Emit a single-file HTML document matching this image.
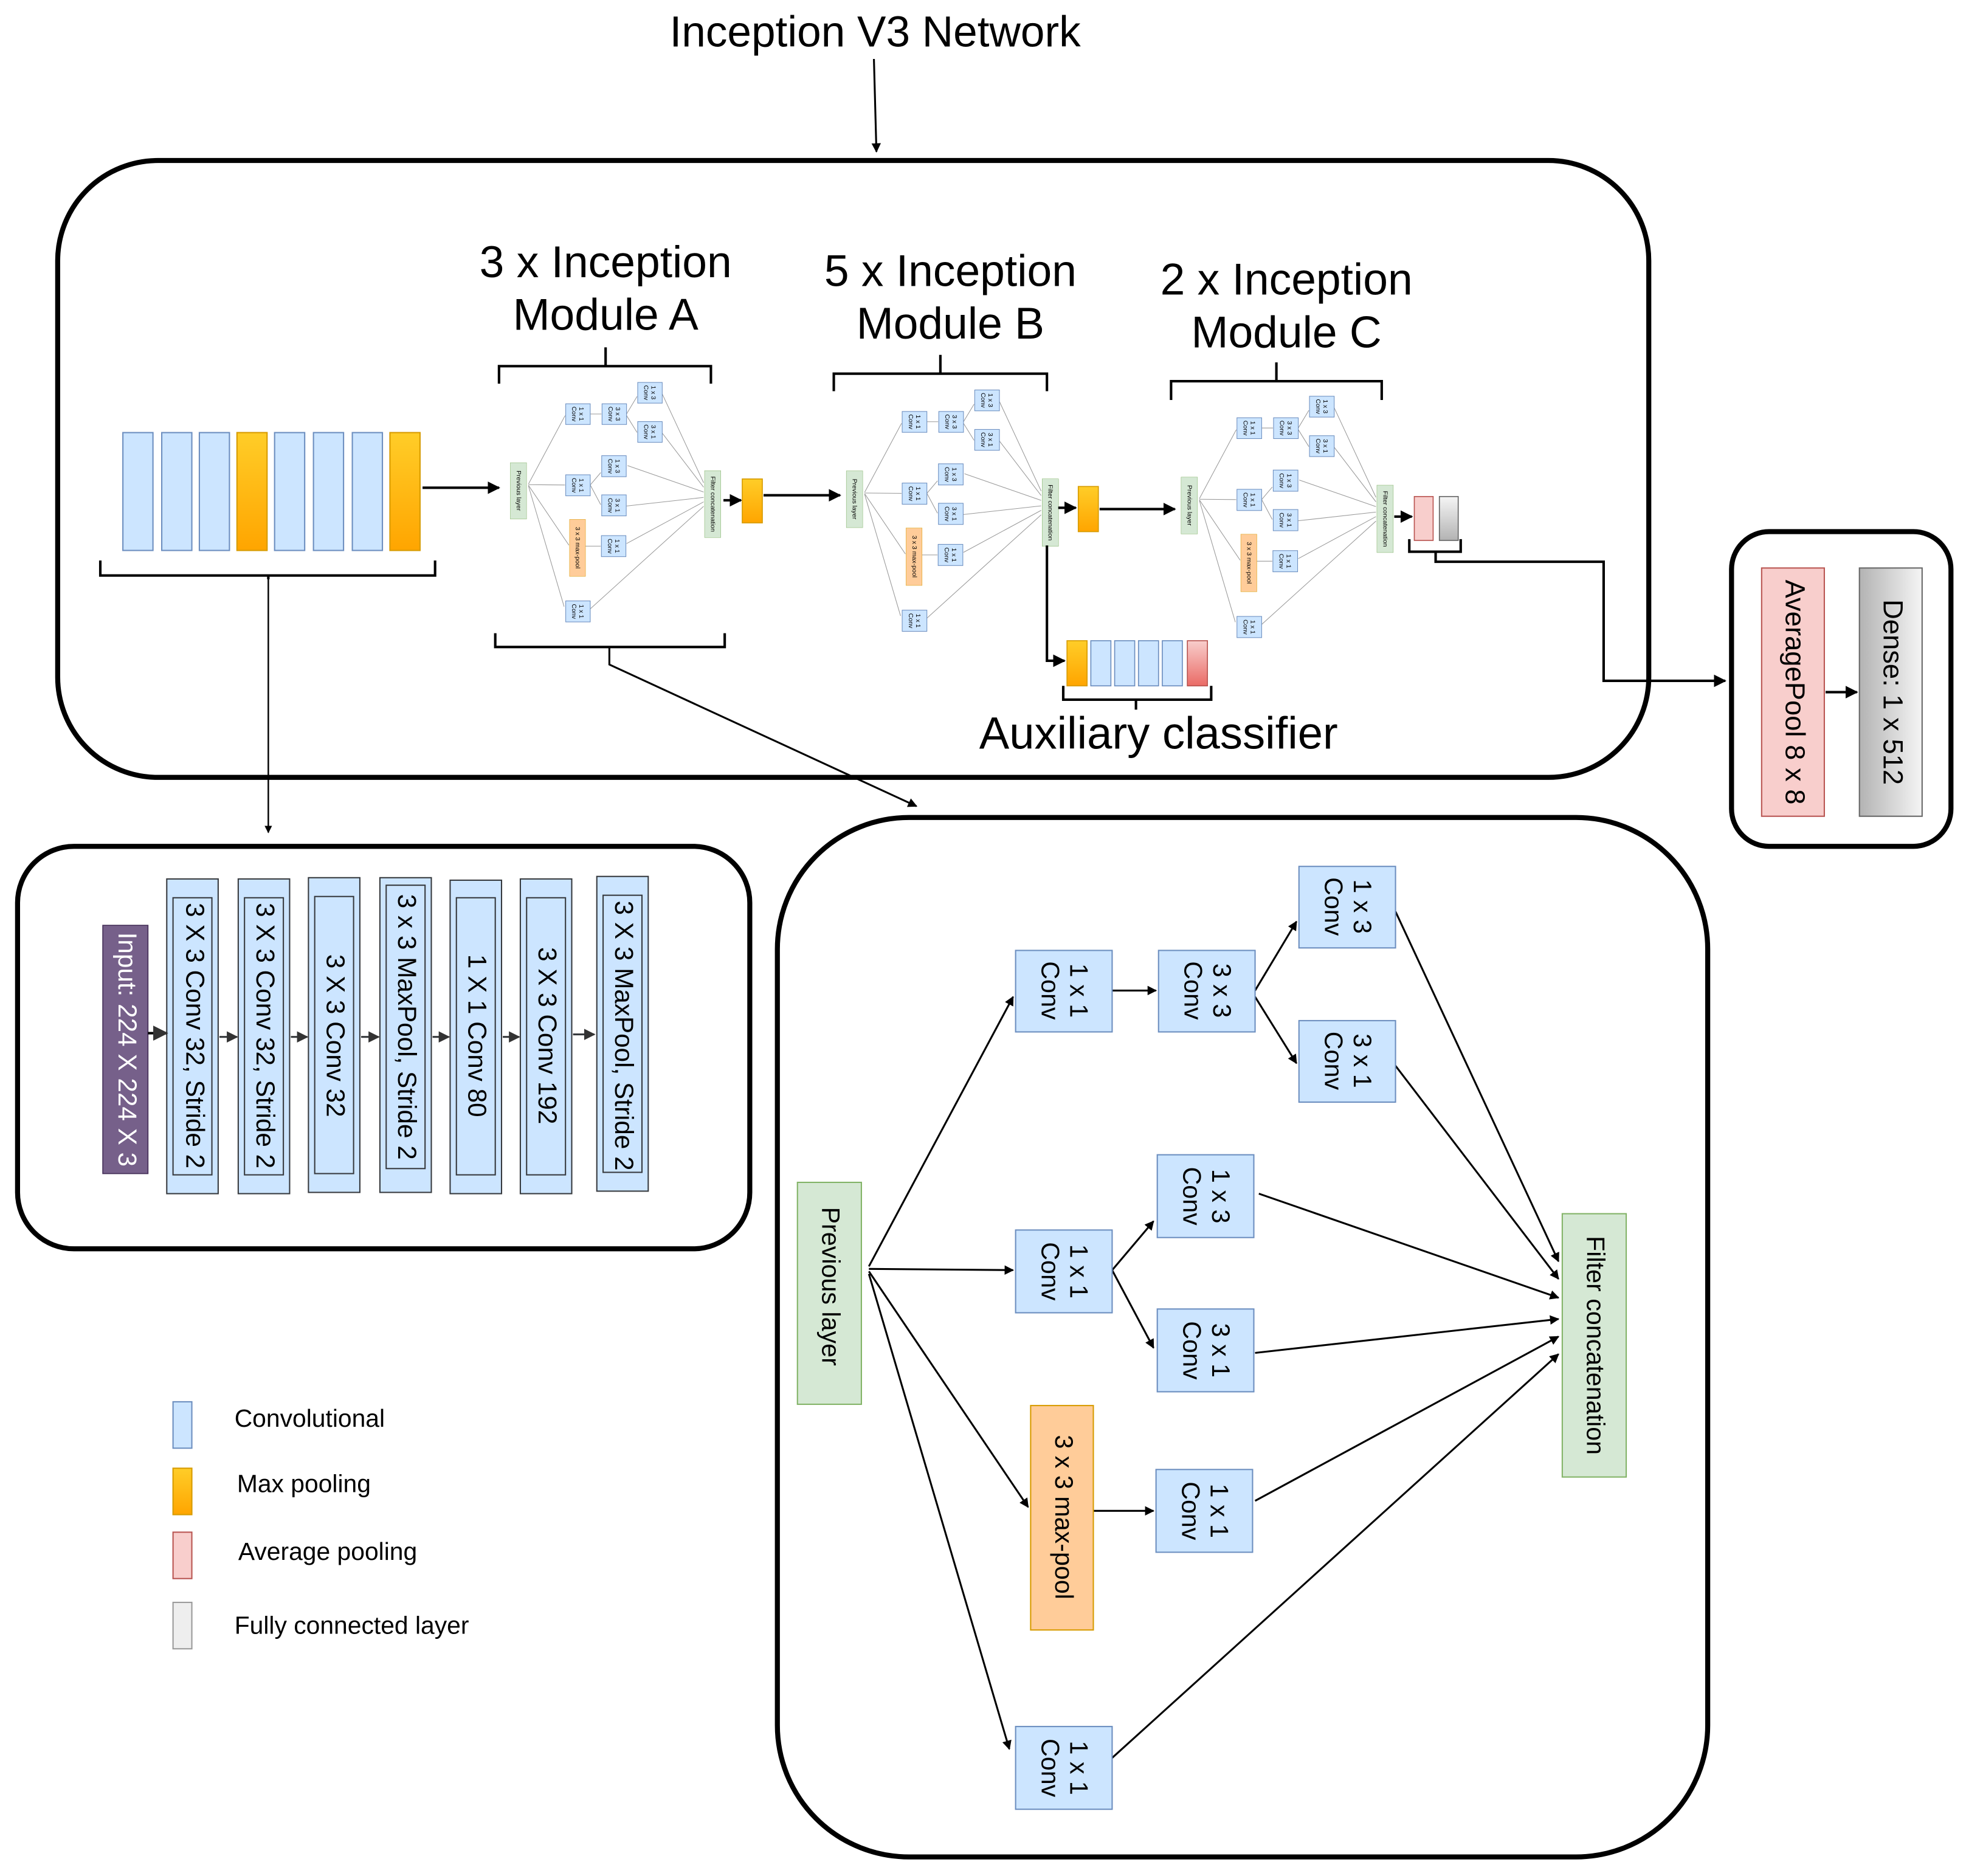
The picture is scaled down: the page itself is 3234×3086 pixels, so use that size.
<!DOCTYPE html>
<html><head><meta charset="utf-8"><style>html,body{margin:0;padding:0;background:#fff}svg{display:block}text{font-family:"Liberation Sans",sans-serif}</style></head><body>
<svg width="3234" height="3086" viewBox="0 0 1568 1496.2" xmlns="http://www.w3.org/2000/svg">
<defs>
<marker id="a" viewBox="0 0 10 10" refX="9" refY="5" markerWidth="5" markerHeight="5" orient="auto"><path d="M0,0 L10,5 L0,10 z" fill="#000"/></marker>
<marker id="g" viewBox="0 0 10 10" refX="9" refY="5" markerWidth="6" markerHeight="6" orient="auto"><path d="M0,0 L10,5 L0,10 z" fill="#333"/></marker>
<linearGradient id="or" x1="0" y1="0" x2="0" y2="1"><stop offset="0" stop-color="#ffcd28"/><stop offset="1" stop-color="#ffa500"/></linearGradient>
<linearGradient id="rd" x1="0" y1="0" x2="0" y2="1"><stop offset="0" stop-color="#f8cecc"/><stop offset="1" stop-color="#ea6b66"/></linearGradient>
<linearGradient id="gy" x1="0" y1="0" x2="1" y2="0"><stop offset="0" stop-color="#b3b3b3"/><stop offset="1" stop-color="#f5f5f5"/></linearGradient>
<linearGradient id="gy2" x1="0" y1="0" x2="0" y2="1"><stop offset="0" stop-color="#f5f5f5"/><stop offset="1" stop-color="#b3b3b3"/></linearGradient>
</defs>

<text x="698" y="37" font-size="34.5" text-anchor="middle">Inception V3 Network</text>
<line x1="697" y1="47" x2="699" y2="121" stroke="#000" stroke-width="1.5" marker-end="url(#a)"/>

<rect x="46" y="128" width="1269" height="492" rx="80" fill="none" stroke="#000" stroke-width="4"/>

<g stroke="#6c8ebf" stroke-width="1">
<rect x="98" y="345" width="24" height="94" fill="#cce5ff"/>
<rect x="129" y="345" width="24" height="94" fill="#cce5ff"/>
<rect x="159" y="345" width="24" height="94" fill="#cce5ff"/>
<rect x="189" y="345" width="24" height="94" fill="url(#or)" stroke="#d79b00"/>
<rect x="219" y="345" width="24" height="94" fill="#cce5ff"/>
<rect x="250" y="345" width="24" height="94" fill="#cce5ff"/>
<rect x="281" y="345" width="24" height="94" fill="#cce5ff"/>
<rect x="311" y="345" width="24" height="94" fill="url(#or)" stroke="#d79b00"/>
</g>
<line x1="337" y1="389" x2="398" y2="389" stroke="#000" stroke-width="2" marker-end="url(#a)"/>
<path d="M80,447 V459 H347 V447 M214,459 V462" fill="none" stroke="#000" stroke-width="2"/>
<line x1="214" y1="459" x2="214" y2="664" stroke="#000" stroke-width="1.2" marker-end="url(#a)"/>

<g font-size="35.5" text-anchor="middle">
<text x="483" y="221">3 x Inception</text><text x="483" y="263">Module A</text>
<text x="758" y="228">5 x Inception</text><text x="758" y="270">Module B</text>
<text x="1026" y="235">2 x Inception</text><text x="1026" y="277">Module C</text>
</g>
<path d="M398,306 V292 H567 V306 M483,292 V277" fill="none" stroke="#000" stroke-width="2"/>
<path d="M665,312 V298 H835 V312 M750,298 V283" fill="none" stroke="#000" stroke-width="2"/>
<path d="M934,319 V304 H1102 V319 M1018,304 V289" fill="none" stroke="#000" stroke-width="2"/>
<path d="M395,505 V516 H578 V505" fill="none" stroke="#000" stroke-width="2"/>
<path d="M486,516 V530 L731,643" fill="none" stroke="#000" stroke-width="1.5" marker-end="url(#a)"/>

<g transform="translate(407,305) scale(0.254) translate(-636,-691)">
<g stroke="#999" stroke-width="2" fill="none">
<line x1="693" y1="1010" x2="808" y2="795"/><line x1="693" y1="1012" x2="808" y2="1013"/><line x1="693" y1="1014" x2="820" y2="1202"/><line x1="693" y1="1016" x2="805" y2="1395"/>
<line x1="887" y1="790" x2="922" y2="790"/><line x1="1001" y1="790" x2="1034" y2="735"/><line x1="1001" y1="795" x2="1034" y2="848"/>
<line x1="887" y1="1013" x2="920" y2="974"/><line x1="887" y1="1013" x2="920" y2="1075"/><line x1="870" y1="1205" x2="920" y2="1205"/>
<line x1="1113" y1="727" x2="1243" y2="1006"/><line x1="1113" y1="850" x2="1243" y2="1020"/><line x1="1004" y1="952" x2="1243" y2="1035"/><line x1="1001" y1="1079" x2="1243" y2="1052"/><line x1="1001" y1="1197" x2="1243" y2="1066"/><line x1="887" y1="1402" x2="1243" y2="1080"/>
</g>
<g stroke="#6c8ebf" fill="#cce5ff" stroke-width="2">
<rect x="810" y="758" width="77" height="65"/><rect x="924" y="758" width="77" height="65"/><rect x="1036" y="691" width="77" height="65"/><rect x="1036" y="814" width="77" height="65"/>
<rect x="923" y="921" width="77" height="66"/><rect x="810" y="981" width="77" height="66"/><rect x="923" y="1044" width="77" height="66"/><rect x="922" y="1172" width="77" height="66"/><rect x="810" y="1377" width="77" height="66"/>
</g>
<rect x="636" y="943" width="51" height="177" fill="#d5e8d4" stroke="#82b366" stroke-width="1"/>
<rect x="1246" y="968" width="51" height="210" fill="#d5e8d4" stroke="#82b366" stroke-width="1"/>
<rect x="822" y="1121" width="50" height="179" fill="#ffcc99" stroke="#d79b00" stroke-width="1"/>
<g font-size="20" text-anchor="middle" dominant-baseline="middle">
<text transform="translate(661,1031) rotate(90)">Previous layer</text>
<text transform="translate(1271,1073) rotate(90)">Filter concatenation</text>
<text transform="translate(847,1210) rotate(90)">3 x 3 max-pool</text>
<text transform="translate(848,790) rotate(90)"><tspan x="0" y="-11">1 x 1</tspan><tspan x="0" y="12">Conv</tspan></text>
<text transform="translate(962,790) rotate(90)"><tspan x="0" y="-11">3 x 3</tspan><tspan x="0" y="12">Conv</tspan></text>
<text transform="translate(1074,723) rotate(90)"><tspan x="0" y="-11">1 x 3</tspan><tspan x="0" y="12">Conv</tspan></text>
<text transform="translate(1074,846) rotate(90)"><tspan x="0" y="-11">3 x 1</tspan><tspan x="0" y="12">Conv</tspan></text>
<text transform="translate(961,954) rotate(90)"><tspan x="0" y="-11">1 x 3</tspan><tspan x="0" y="12">Conv</tspan></text>
<text transform="translate(848,1014) rotate(90)"><tspan x="0" y="-11">1 x 1</tspan><tspan x="0" y="12">Conv</tspan></text>
<text transform="translate(961,1077) rotate(90)"><tspan x="0" y="-11">3 x 1</tspan><tspan x="0" y="12">Conv</tspan></text>
<text transform="translate(960,1205) rotate(90)"><tspan x="0" y="-11">1 x 1</tspan><tspan x="0" y="12">Conv</tspan></text>
<text transform="translate(848,1410) rotate(90)"><tspan x="0" y="-11">1 x 1</tspan><tspan x="0" y="12">Conv</tspan></text>
</g>
</g>

<g transform="translate(675,311) scale(0.256) translate(-636,-691)">
<g stroke="#999" stroke-width="2" fill="none">
<line x1="693" y1="1010" x2="808" y2="795"/><line x1="693" y1="1012" x2="808" y2="1013"/><line x1="693" y1="1014" x2="820" y2="1202"/><line x1="693" y1="1016" x2="805" y2="1395"/>
<line x1="887" y1="790" x2="922" y2="790"/><line x1="1001" y1="790" x2="1034" y2="735"/><line x1="1001" y1="795" x2="1034" y2="848"/>
<line x1="887" y1="1013" x2="920" y2="974"/><line x1="887" y1="1013" x2="920" y2="1075"/><line x1="870" y1="1205" x2="920" y2="1205"/>
<line x1="1113" y1="727" x2="1243" y2="1006"/><line x1="1113" y1="850" x2="1243" y2="1020"/><line x1="1004" y1="952" x2="1243" y2="1035"/><line x1="1001" y1="1079" x2="1243" y2="1052"/><line x1="1001" y1="1197" x2="1243" y2="1066"/><line x1="887" y1="1402" x2="1243" y2="1080"/>
</g>
<g stroke="#6c8ebf" fill="#cce5ff" stroke-width="2">
<rect x="810" y="758" width="77" height="65"/><rect x="924" y="758" width="77" height="65"/><rect x="1036" y="691" width="77" height="65"/><rect x="1036" y="814" width="77" height="65"/>
<rect x="923" y="921" width="77" height="66"/><rect x="810" y="981" width="77" height="66"/><rect x="923" y="1044" width="77" height="66"/><rect x="922" y="1172" width="77" height="66"/><rect x="810" y="1377" width="77" height="66"/>
</g>
<rect x="636" y="943" width="51" height="177" fill="#d5e8d4" stroke="#82b366" stroke-width="1"/>
<rect x="1246" y="968" width="51" height="210" fill="#d5e8d4" stroke="#82b366" stroke-width="1"/>
<rect x="822" y="1121" width="50" height="179" fill="#ffcc99" stroke="#d79b00" stroke-width="1"/>
<g font-size="20" text-anchor="middle" dominant-baseline="middle">
<text transform="translate(661,1031) rotate(90)">Previous layer</text>
<text transform="translate(1271,1073) rotate(90)">Filter concatenation</text>
<text transform="translate(847,1210) rotate(90)">3 x 3 max-pool</text>
<text transform="translate(848,790) rotate(90)"><tspan x="0" y="-11">1 x 1</tspan><tspan x="0" y="12">Conv</tspan></text>
<text transform="translate(962,790) rotate(90)"><tspan x="0" y="-11">3 x 3</tspan><tspan x="0" y="12">Conv</tspan></text>
<text transform="translate(1074,723) rotate(90)"><tspan x="0" y="-11">1 x 3</tspan><tspan x="0" y="12">Conv</tspan></text>
<text transform="translate(1074,846) rotate(90)"><tspan x="0" y="-11">3 x 1</tspan><tspan x="0" y="12">Conv</tspan></text>
<text transform="translate(961,954) rotate(90)"><tspan x="0" y="-11">1 x 3</tspan><tspan x="0" y="12">Conv</tspan></text>
<text transform="translate(848,1014) rotate(90)"><tspan x="0" y="-11">1 x 1</tspan><tspan x="0" y="12">Conv</tspan></text>
<text transform="translate(961,1077) rotate(90)"><tspan x="0" y="-11">3 x 1</tspan><tspan x="0" y="12">Conv</tspan></text>
<text transform="translate(960,1205) rotate(90)"><tspan x="0" y="-11">1 x 1</tspan><tspan x="0" y="12">Conv</tspan></text>
<text transform="translate(848,1410) rotate(90)"><tspan x="0" y="-11">1 x 1</tspan><tspan x="0" y="12">Conv</tspan></text>
</g>
</g>

<g transform="translate(942,316) scale(0.256) translate(-636,-691)">
<g stroke="#999" stroke-width="2" fill="none">
<line x1="693" y1="1010" x2="808" y2="795"/><line x1="693" y1="1012" x2="808" y2="1013"/><line x1="693" y1="1014" x2="820" y2="1202"/><line x1="693" y1="1016" x2="805" y2="1395"/>
<line x1="887" y1="790" x2="922" y2="790"/><line x1="1001" y1="790" x2="1034" y2="735"/><line x1="1001" y1="795" x2="1034" y2="848"/>
<line x1="887" y1="1013" x2="920" y2="974"/><line x1="887" y1="1013" x2="920" y2="1075"/><line x1="870" y1="1205" x2="920" y2="1205"/>
<line x1="1113" y1="727" x2="1243" y2="1006"/><line x1="1113" y1="850" x2="1243" y2="1020"/><line x1="1004" y1="952" x2="1243" y2="1035"/><line x1="1001" y1="1079" x2="1243" y2="1052"/><line x1="1001" y1="1197" x2="1243" y2="1066"/><line x1="887" y1="1402" x2="1243" y2="1080"/>
</g>
<g stroke="#6c8ebf" fill="#cce5ff" stroke-width="2">
<rect x="810" y="758" width="77" height="65"/><rect x="924" y="758" width="77" height="65"/><rect x="1036" y="691" width="77" height="65"/><rect x="1036" y="814" width="77" height="65"/>
<rect x="923" y="921" width="77" height="66"/><rect x="810" y="981" width="77" height="66"/><rect x="923" y="1044" width="77" height="66"/><rect x="922" y="1172" width="77" height="66"/><rect x="810" y="1377" width="77" height="66"/>
</g>
<rect x="636" y="943" width="51" height="177" fill="#d5e8d4" stroke="#82b366" stroke-width="1"/>
<rect x="1246" y="968" width="51" height="210" fill="#d5e8d4" stroke="#82b366" stroke-width="1"/>
<rect x="822" y="1121" width="50" height="179" fill="#ffcc99" stroke="#d79b00" stroke-width="1"/>
<g font-size="20" text-anchor="middle" dominant-baseline="middle">
<text transform="translate(661,1031) rotate(90)">Previous layer</text>
<text transform="translate(1271,1073) rotate(90)">Filter concatenation</text>
<text transform="translate(847,1210) rotate(90)">3 x 3 max-pool</text>
<text transform="translate(848,790) rotate(90)"><tspan x="0" y="-11">1 x 1</tspan><tspan x="0" y="12">Conv</tspan></text>
<text transform="translate(962,790) rotate(90)"><tspan x="0" y="-11">3 x 3</tspan><tspan x="0" y="12">Conv</tspan></text>
<text transform="translate(1074,723) rotate(90)"><tspan x="0" y="-11">1 x 3</tspan><tspan x="0" y="12">Conv</tspan></text>
<text transform="translate(1074,846) rotate(90)"><tspan x="0" y="-11">3 x 1</tspan><tspan x="0" y="12">Conv</tspan></text>
<text transform="translate(961,954) rotate(90)"><tspan x="0" y="-11">1 x 3</tspan><tspan x="0" y="12">Conv</tspan></text>
<text transform="translate(848,1014) rotate(90)"><tspan x="0" y="-11">1 x 1</tspan><tspan x="0" y="12">Conv</tspan></text>
<text transform="translate(961,1077) rotate(90)"><tspan x="0" y="-11">3 x 1</tspan><tspan x="0" y="12">Conv</tspan></text>
<text transform="translate(960,1205) rotate(90)"><tspan x="0" y="-11">1 x 1</tspan><tspan x="0" y="12">Conv</tspan></text>
<text transform="translate(848,1410) rotate(90)"><tspan x="0" y="-11">1 x 1</tspan><tspan x="0" y="12">Conv</tspan></text>
</g>
</g>

<line x1="577" y1="399" x2="591" y2="399" stroke="#000" stroke-width="2" marker-end="url(#a)"/>
<rect x="592" y="382" width="16" height="35" fill="url(#or)" stroke="#d79b00" stroke-width="0.8"/>
<line x1="609" y1="395" x2="670" y2="395" stroke="#000" stroke-width="2" marker-end="url(#a)"/>
<line x1="844" y1="405" x2="858" y2="405" stroke="#000" stroke-width="2" marker-end="url(#a)"/>
<rect x="860" y="388" width="16" height="36" fill="url(#or)" stroke="#d79b00" stroke-width="0.8"/>
<line x1="877" y1="406" x2="937" y2="406" stroke="#000" stroke-width="2" marker-end="url(#a)"/>

<path d="M835,435 V527 H849" fill="none" stroke="#000" stroke-width="2" marker-end="url(#a)"/>
<g stroke-width="0.8">
<rect x="851" y="511" width="16" height="36" fill="url(#or)" stroke="#d79b00"/>
<rect x="870" y="511" width="16" height="36" fill="#cce5ff" stroke="#6c8ebf"/>
<rect x="889" y="511" width="16" height="36" fill="#cce5ff" stroke="#6c8ebf"/>
<rect x="908" y="511" width="16" height="36" fill="#cce5ff" stroke="#6c8ebf"/>
<rect x="927" y="511" width="16" height="36" fill="#cce5ff" stroke="#6c8ebf"/>
<rect x="947" y="511" width="16" height="36" fill="url(#rd)" stroke="#b85450"/>
</g>
<path d="M848,547 V558 H966 V547 M906,558 V566" fill="none" stroke="#000" stroke-width="2"/>
<text x="924" y="597" font-size="36" text-anchor="middle" style="font-family:'Liberation Sans Narrow','Liberation Sans',sans-serif">Auxiliary classifier</text>

<line x1="1112" y1="412" x2="1126" y2="412" stroke="#000" stroke-width="2" marker-end="url(#a)"/>
<rect x="1128" y="396" width="15" height="35" fill="#f8cecc" stroke="#b85450" stroke-width="0.8"/>
<rect x="1148" y="396" width="15" height="35" fill="url(#gy2)" stroke="#666" stroke-width="0.8"/>
<path d="M1124,430 V440 H1165 V430 M1145,440 V448 H1279 V543 H1376" fill="none" stroke="#000" stroke-width="2" marker-end="url(#a)"/>

<rect x="1381" y="424" width="175" height="251" rx="30" fill="none" stroke="#000" stroke-width="4"/>
<rect x="1405" y="453" width="50" height="198" fill="#f8cecc" stroke="#b85450"/>
<rect x="1483" y="453" width="50" height="198" fill="url(#gy)" stroke="#666"/>
<line x1="1456" y1="552" x2="1481" y2="552" stroke="#000" stroke-width="2" marker-end="url(#a)"/>
<g font-size="22" text-anchor="middle" dominant-baseline="middle">
<text transform="translate(1430,552) rotate(90)">AveragePool 8 x 8</text>
<text transform="translate(1508,552) rotate(90)">Dense: 1 x 512</text>
</g>

<rect x="14" y="675" width="584" height="321" rx="45" fill="none" stroke="#000" stroke-width="4"/>
<rect x="82" y="738" width="36" height="198" fill="#76608a" stroke="#432d57" stroke-width="0.8"/>
<g fill="#cce5ff" stroke="#36393d" stroke-width="1">
<rect x="133" y="701" width="41" height="251"/><rect x="190" y="701" width="41" height="251"/><rect x="246" y="700" width="41" height="251"/><rect x="303" y="700" width="41" height="251"/><rect x="359" y="702" width="41" height="250"/><rect x="415" y="701" width="41" height="251"/><rect x="476" y="699" width="41" height="251"/>
</g>
<g fill="none" stroke="#36393d" stroke-width="1">
<rect x="138" y="716" width="31" height="221"/><rect x="195" y="716" width="31" height="221"/><rect x="251" y="715" width="31" height="221"/><rect x="308" y="706" width="31" height="226"/><rect x="364" y="716" width="31" height="221"/><rect x="420" y="716" width="31" height="221"/><rect x="481" y="714" width="31" height="221"/>
</g>
<g stroke="#36393d" stroke-width="1.5" marker-end="url(#g)">
<line x1="118" y1="824" x2="133" y2="824" stroke="#000" stroke-width="2"/>
<line x1="175" y1="827" x2="189" y2="827"/><line x1="232" y1="827" x2="245" y2="827"/><line x1="288" y1="827" x2="302" y2="827"/><line x1="345" y1="827" x2="358" y2="827"/><line x1="401" y1="827" x2="414" y2="827"/><line x1="457" y1="825" x2="474" y2="825"/>
</g>
<g font-size="20.5" text-anchor="middle" dominant-baseline="middle">
<text transform="translate(100,837) rotate(90)" fill="#fff">Input: 224 X 224 X 3</text>
<text transform="translate(154,826) rotate(90)">3 X 3 Conv 32, Stride 2</text>
<text transform="translate(210,826) rotate(90)">3 X 3 Conv 32, Stride 2</text>
<text transform="translate(266,826) rotate(90)">3 X 3 Conv 32</text>
<text transform="translate(323,819) rotate(90)">3 x 3 MaxPool, Stride 2</text>
<text transform="translate(379,826) rotate(90)">1 X 1 Conv 80</text>
<text transform="translate(435,826) rotate(90)">3 X 3 Conv 192</text>
<text transform="translate(496,826) rotate(90)">3 X 3 MaxPool, Stride 2</text>
</g>

<rect x="138" y="1118" width="15" height="37" fill="#cce5ff" stroke="#6c8ebf"/>
<rect x="138" y="1171" width="15" height="37" fill="url(#or)" stroke="#d79b00"/>
<rect x="138" y="1222" width="15" height="37" fill="#f8cecc" stroke="#b85450"/>
<rect x="138" y="1278" width="15" height="37" fill="#eeeeee" stroke="#999"/>
<g font-size="19.8">
<text x="187" y="1138">Convolutional</text>
<text x="189" y="1190">Max pooling</text>
<text x="190" y="1244">Average pooling</text>
<text x="187" y="1303">Fully connected layer</text>
</g>

<rect x="620" y="652" width="742" height="829" rx="105" fill="none" stroke="#000" stroke-width="4"/>
<g stroke="#000" stroke-width="1.5" fill="none" marker-end="url(#a)">
<line x1="693" y1="1010" x2="808" y2="795"/><line x1="693" y1="1012" x2="808" y2="1013"/><line x1="693" y1="1014" x2="820" y2="1202"/><line x1="693" y1="1016" x2="805" y2="1395"/>
<line x1="887" y1="790" x2="922" y2="790"/><line x1="1001" y1="790" x2="1034" y2="735"/><line x1="1001" y1="795" x2="1034" y2="848"/>
<line x1="887" y1="1013" x2="920" y2="974"/><line x1="887" y1="1013" x2="920" y2="1075"/><line x1="870" y1="1205" x2="920" y2="1205"/>
<line x1="1113" y1="727" x2="1243" y2="1006"/><line x1="1113" y1="850" x2="1243" y2="1020"/><line x1="1004" y1="952" x2="1243" y2="1035"/><line x1="1001" y1="1079" x2="1243" y2="1052"/><line x1="1001" y1="1197" x2="1243" y2="1066"/><line x1="887" y1="1402" x2="1243" y2="1080"/>
</g>
<g stroke="#6c8ebf" fill="#cce5ff" stroke-width="1">
<rect x="810" y="758" width="77" height="65"/><rect x="924" y="758" width="77" height="65"/><rect x="1036" y="691" width="77" height="65"/><rect x="1036" y="814" width="77" height="65"/>
<rect x="923" y="921" width="77" height="66"/><rect x="810" y="981" width="77" height="66"/><rect x="923" y="1044" width="77" height="66"/><rect x="922" y="1172" width="77" height="66"/><rect x="810" y="1377" width="77" height="66"/>
</g>
<rect x="636" y="943" width="51" height="177" fill="#d5e8d4" stroke="#82b366" stroke-width="1"/>
<rect x="1246" y="968" width="51" height="210" fill="#d5e8d4" stroke="#82b366" stroke-width="1"/>
<rect x="822" y="1121" width="50" height="179" fill="#ffcc99" stroke="#d79b00" stroke-width="1"/>
<g font-size="20" text-anchor="middle" dominant-baseline="middle">
<text transform="translate(661,1026) rotate(90)">Previous layer</text>
<text transform="translate(1271,1073) rotate(90)">Filter concatenation</text>
<text transform="translate(847,1210) rotate(90)">3 x 3 max-pool</text>
<text transform="translate(848,790) rotate(90)"><tspan x="0" y="-11">1 x 1</tspan><tspan x="0" y="12">Conv</tspan></text>
<text transform="translate(962,790) rotate(90)"><tspan x="0" y="-11">3 x 3</tspan><tspan x="0" y="12">Conv</tspan></text>
<text transform="translate(1074,723) rotate(90)"><tspan x="0" y="-11">1 x 3</tspan><tspan x="0" y="12">Conv</tspan></text>
<text transform="translate(1074,846) rotate(90)"><tspan x="0" y="-11">3 x 1</tspan><tspan x="0" y="12">Conv</tspan></text>
<text transform="translate(961,954) rotate(90)"><tspan x="0" y="-11">1 x 3</tspan><tspan x="0" y="12">Conv</tspan></text>
<text transform="translate(848,1014) rotate(90)"><tspan x="0" y="-11">1 x 1</tspan><tspan x="0" y="12">Conv</tspan></text>
<text transform="translate(961,1077) rotate(90)"><tspan x="0" y="-11">3 x 1</tspan><tspan x="0" y="12">Conv</tspan></text>
<text transform="translate(960,1205) rotate(90)"><tspan x="0" y="-11">1 x 1</tspan><tspan x="0" y="12">Conv</tspan></text>
<text transform="translate(848,1410) rotate(90)"><tspan x="0" y="-11">1 x 1</tspan><tspan x="0" y="12">Conv</tspan></text>
</g>
</svg>
</body></html>
